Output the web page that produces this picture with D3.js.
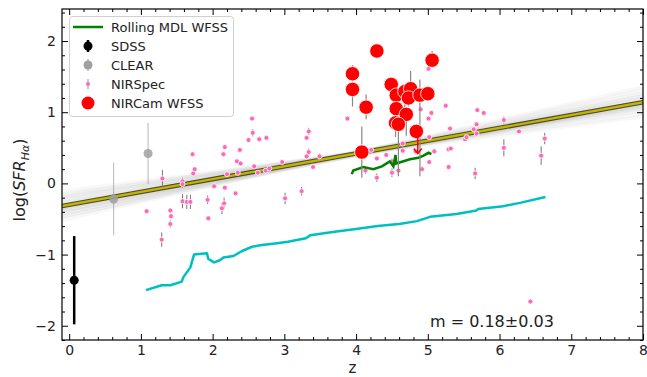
<!DOCTYPE html>
<html>
<head>
<meta charset="utf-8">
<script src="https://d3js.org/d3.v7.min.js"></script>
<style>
  body { margin: 0; background: #fff; }
  text { font-family: "DejaVu Sans", sans-serif; }
</style>
</head>
<body>
<script>
  // ---- data ----
  // NIRSpec: redshift, log SFR, error
  const nsZ = [1.08,1.30,1.29,1.41,1.42,1.41,1.58,1.58,1.58,1.64,1.69,1.73,1.75,1.72,1.93,1.94,2.02,2.13,2.16,2.17,
    2.20,2.15,2.17,2.32,2.34,2.39,2.35,2.38,2.50,2.55,2.56,2.58,2.63,2.65,2.75,2.74,2.79,2.97,3.01,3.24,
    3.31,3.34,3.34,3.31,3.49,3.40,3.88,4.13,4.21,4.29,4.42,4.50,4.50,4.59,4.65,4.65,4.29,4.83,4.92,5.02,
    5.09,5.29,5.29,4.90,5.05,5.01,5.02,5.01,5.25,5.69,5.78,6.06,5.31,5.68,5.64,5.68,5.52,5.54,6.27,6.63,
    5.32,6.06,6.58,5.66,6.43];
  const nsY = [-0.39,0.07,-0.79,-0.38,-0.46,-0.57,0.03,-0.01,-0.25,-0.26,-0.26,0.14,0.20,0.41,-0.23,-0.49,-0.04,-0.35,-0.28,-0.06,
    0.13,0.41,0.51,-0.14,0.31,0.28,0.15,0.47,0.61,0.91,0.71,0.24,0.15,0.62,0.64,0.18,0.21,0.30,-0.21,-0.11,
    0.64,0.73,0.44,0.38,0.38,0.23,0.91,0.18,0.47,0.35,0.40,0.31,0.15,0.18,0.56,0.46,0.08,0.45,0.20,0.30,
    0.45,0.48,0.23,1.04,0.99,0.91,0.65,1.61,1.09,1.03,0.99,0.89,0.77,0.83,0.76,0.70,0.62,0.65,0.73,0.63,
    0.49,0.50,0.39,0.14,-1.66];
  const nsErr = [0.03,0.12,0.10,0.03,0.03,0.05,0.05,0.05,0.10,0.10,0.10,0.03,0.03,0.02,0.06,0.03,0.02,0.08,0.08,0.02,
    0.03,0.03,0.02,0.02,0.03,0.02,0.02,0.02,0.02,0.02,0.05,0.03,0.02,0.02,0.02,0.03,0.02,0.03,0.08,0.06,
    0.03,0.05,0.05,0.03,0.04,0.03,0.02,0.05,0.03,0.03,0.03,0.04,0.06,0.06,0.03,0.03,0.06,0.03,0.04,0.03,
    0.03,0.03,0.03,0.02,0.02,0.02,0.02,0.02,0.02,0.02,0.02,0.05,0.02,0.02,0.02,0.02,0.02,0.02,0.02,0.08,
    0.02,0.12,0.13,0.08,0.02];

  // NIRCam WFSS
  const wfZ  = [3.95,3.95,4.29,4.14,4.08,4.49,4.56,4.68,4.76,4.73,4.89,5.00,5.06,4.56,4.70,4.55,4.59,4.84];
  const wfY  = [1.54,1.32,1.86,1.07,0.44,1.39,1.24,1.29,1.33,1.20,1.24,1.26,1.73,1.05,0.97,0.85,0.83,0.73];
  const wfLo = [0.10,0.24,0.05,0.17,0.36,0.10,0.12,0.25,0.10,0.12,1.14,0.10,0.10,0.12,0.30,0.20,0.73,0.10];
  const wfHi = [0.12,0.10,0.05,0.18,0.36,0.10,0.12,0.10,0.25,0.12,0.22,0.10,0.13,0.10,0.10,0.10,0.10,0.10];
  const limZ = [4.86], limTop = [0.72], limBot = [0.42];

  // SDSS and CLEAR
  const sdssZ = [0.07], sdssY = [-1.36], sdssErr = [0.62];
  const clearZ = [1.10, 0.62], clearY = [0.42, -0.22], clearErr = [0.43, 0.51];

  // rolling mass detection limits
  const mdlWfssZ = [3.94,3.96,4.10,4.24,4.36,4.47,4.52,4.55,4.56,4.75,4.87,4.94,5.01,5.05];
  const mdlWfssY = [0.13,0.18,0.23,0.20,0.24,0.31,0.24,0.40,0.28,0.34,0.36,0.39,0.43,0.41];
  const mdlZ = [1.07,1.29,1.41,1.57,1.59,1.69,1.74,1.92,1.94,2.02,2.10,2.15,2.29,2.41,2.55,2.66,2.90,3.05,3.30,3.36,
    3.70,4.00,4.30,4.60,4.85,5.03,5.40,5.68,5.70,6.05,6.30,6.64];
  const mdlY = [-1.50,-1.43,-1.43,-1.38,-1.32,-1.18,-1.00,-0.98,-1.06,-1.11,-1.08,-1.04,-1.02,-0.95,-0.89,-0.87,-0.84,-0.82,-0.77,-0.73,
    -0.68,-0.64,-0.60,-0.57,-0.53,-0.47,-0.43,-0.38,-0.36,-0.32,-0.27,-0.19];

  // linear fit and bootstrap draws
  const fitSlope = 0.18, fitIntercept = -0.30;
  const bandSlope = [0.13,0.14,0.15,0.15,0.16,0.16,0.17,0.17,0.17,0.18,0.18,0.18,0.18,0.19,0.19,0.19,0.20,0.20,0.21,0.21,0.22,0.23];
  const bandIntercept = [-0.10,-0.14,-0.18,-0.16,-0.22,-0.20,-0.26,-0.25,-0.28,-0.29,-0.30,-0.31,-0.33,-0.33,-0.35,-0.37,-0.37,-0.40,-0.41,-0.44,-0.45,-0.49];

  const xTicks = [0,1,2,3,4,5,6,7,8];
  const yTicks = [-2,-1,0,1,2];
  const legendLabels = ["Rolling MDL WFSS","SDSS","CLEAR","NIRSpec","NIRCam WFSS"];

  // ---- layout ----
  const W = 647, H = 377;
  const L = 62, R = 643, T = 9, B = 340;

  const x = d3.scaleLinear().domain([-0.1, 8]).range([L, R]);
  const y = d3.scaleLinear().domain([-2.2, 2.45]).range([B, T]);

  const svg = d3.select("body").append("svg")
    .attr("width", W).attr("height", H);

  svg.append("defs").append("clipPath").attr("id", "clip")
    .append("rect").attr("x", L).attr("y", T).attr("width", R - L).attr("height", B - T);

  const plot = svg.append("g").attr("clip-path", "url(#clip)");

  // bootstrap band
  const xs = x.domain();
  plot.selectAll(".band")
    .data(d3.range(bandSlope.length))
    .enter().append("line")
    .attr("x1", x(xs[0])).attr("x2", x(xs[1]))
    .attr("y1", i => y(bandIntercept[i] + bandSlope[i] * xs[0]))
    .attr("y2", i => y(bandIntercept[i] + bandSlope[i] * xs[1]))
    .attr("stroke", "#888").attr("stroke-width", 4).attr("stroke-opacity", 0.06);

  // fit line
  [["#4a4a30", 4.5], ["#c2b400", 2.4]].forEach(function(s) {
    plot.append("line")
      .attr("x1", x(xs[0])).attr("x2", x(xs[1]))
      .attr("y1", y(fitIntercept + fitSlope * xs[0]))
      .attr("y2", y(fitIntercept + fitSlope * xs[1]))
      .attr("stroke", s[0]).attr("stroke-width", s[1]);
  });

  // cyan rolling MDL
  const line = d3.line().x(d => x(d[0])).y(d => y(d[1]));
  plot.append("path")
    .attr("d", line(d3.zip(mdlZ, mdlY)))
    .attr("fill", "none").attr("stroke", "#00bfbf").attr("stroke-width", 2.5)
    .attr("stroke-linejoin", "round");

  // SDSS
  plot.selectAll(".sdss-e").data(sdssZ).enter().append("line")
    .attr("x1", d => x(d)).attr("x2", d => x(d))
    .attr("y1", (d, i) => y(sdssY[i] - sdssErr[i]))
    .attr("y2", (d, i) => y(sdssY[i] + sdssErr[i]))
    .attr("stroke", "black").attr("stroke-width", 2.5);
  plot.selectAll(".sdss").data(sdssZ).enter().append("circle")
    .attr("cx", d => x(d)).attr("cy", (d, i) => y(sdssY[i])).attr("r", 4.5)
    .attr("fill", "black");

  // CLEAR
  plot.selectAll(".clear-e").data(clearZ).enter().append("line")
    .attr("x1", d => x(d)).attr("x2", d => x(d))
    .attr("y1", (d, i) => y(clearY[i] - clearErr[i]))
    .attr("y2", (d, i) => y(clearY[i] + clearErr[i]))
    .attr("stroke", "#999").attr("stroke-width", 1).attr("stroke-opacity", 0.7);
  plot.selectAll(".clear").data(clearZ).enter().append("circle")
    .attr("cx", d => x(d)).attr("cy", (d, i) => y(clearY[i])).attr("r", 4.5)
    .attr("fill", "#a0a0a0").attr("fill-opacity", 0.85);

  // NIRSpec
  plot.selectAll(".ns-e").data(nsZ).enter().append("line")
    .attr("x1", d => x(d)).attr("x2", d => x(d))
    .attr("y1", (d, i) => y(nsY[i] - nsErr[i]))
    .attr("y2", (d, i) => y(nsY[i] + nsErr[i]))
    .attr("stroke", "#777").attr("stroke-width", 1);
  plot.selectAll(".ns").data(nsZ).enter().append("circle")
    .attr("cx", d => x(d)).attr("cy", (d, i) => y(nsY[i])).attr("r", 2.5)
    .attr("fill", "#ff69b4").attr("stroke", "white").attr("stroke-width", 0.8);

  // green WFSS MDL
  plot.append("path")
    .attr("d", line(d3.zip(mdlWfssZ, mdlWfssY)))
    .attr("fill", "none").attr("stroke", "green").attr("stroke-width", 2.5);

  // NIRCam WFSS
  plot.selectAll(".wf-e").data(wfZ).enter().append("line")
    .attr("x1", d => x(d)).attr("x2", d => x(d))
    .attr("y1", (d, i) => y(wfY[i] - wfLo[i]))
    .attr("y2", (d, i) => y(wfY[i] + wfHi[i]))
    .attr("stroke", "#888").attr("stroke-width", 1.2);
  plot.selectAll(".wf").data(wfZ).enter().append("circle")
    .attr("cx", d => x(d)).attr("cy", (d, i) => y(wfY[i])).attr("r", 7.2)
    .attr("fill", "red").attr("stroke", "white").attr("stroke-width", 0.8);

  // upper limit arrow
  limZ.forEach(function(z, i) {
    const ax = x(z), ab = y(limBot[i]);
    plot.append("line").attr("x1", ax).attr("x2", ax)
      .attr("y1", y(limTop[i])).attr("y2", ab)
      .attr("stroke", "red").attr("stroke-width", 1.5);
    plot.append("path")
      .attr("d", `M${ax - 4},${ab - 5}L${ax},${ab}L${ax + 4},${ab - 5}`)
      .attr("fill", "none").attr("stroke", "red").attr("stroke-width", 1.5);
  });

  // ---- axes ----
  const xMinor = d3.range(0, 8.01, 0.2).filter(v => Math.abs(v - Math.round(v)) > 0.01);
  const yMinor = d3.range(-2.2, 2.45, 0.2).filter(v => Math.abs(v - Math.round(v)) > 0.01);

  function styleAxis(g) {
    g.select(".domain").remove();
    g.selectAll("line").attr("stroke", "black").attr("stroke-width", 1);
    g.selectAll("text").attr("font-size", 14).attr("fill", "#222")
      .attr("font-family", "DejaVu Sans");
  }
  const fmt = d => d < 0 ? "\u2212" + Math.abs(d) : String(d);

  svg.append("g").attr("transform", `translate(0,${B})`)
    .call(d3.axisBottom(x).tickValues(xTicks).tickSize(-6).tickPadding(5).tickFormat(fmt)).call(styleAxis);
  svg.append("g").attr("transform", `translate(0,${B})`)
    .call(d3.axisBottom(x).tickValues(xMinor).tickSize(-3).tickFormat("")).call(styleAxis);
  svg.append("g").attr("transform", `translate(0,${T})`)
    .call(d3.axisTop(x).tickValues(xTicks).tickSize(-6).tickFormat("")).call(styleAxis);
  svg.append("g").attr("transform", `translate(0,${T})`)
    .call(d3.axisTop(x).tickValues(xMinor).tickSize(-3).tickFormat("")).call(styleAxis);

  svg.append("g").attr("transform", `translate(${L},0)`)
    .call(d3.axisLeft(y).tickValues(yTicks).tickSize(-6).tickPadding(6).tickFormat(fmt)).call(styleAxis);
  svg.append("g").attr("transform", `translate(${L},0)`)
    .call(d3.axisLeft(y).tickValues(yMinor).tickSize(-3).tickFormat("")).call(styleAxis);
  svg.append("g").attr("transform", `translate(${R},0)`)
    .call(d3.axisRight(y).tickValues(yTicks).tickSize(-6).tickFormat("")).call(styleAxis);
  svg.append("g").attr("transform", `translate(${R},0)`)
    .call(d3.axisRight(y).tickValues(yMinor).tickSize(-3).tickFormat("")).call(styleAxis);

  svg.append("rect").attr("x", L).attr("y", T).attr("width", R - L).attr("height", B - T)
    .attr("fill", "none").attr("stroke", "black").attr("stroke-width", 1.2);

  // axis labels
  svg.append("text").attr("x", (L + R) / 2).attr("y", 373)
    .attr("text-anchor", "middle").attr("font-size", 15).attr("fill", "#222").text("z");

  const yl = svg.append("text")
    .attr("transform", "translate(25,180) rotate(-90)")
    .attr("text-anchor", "middle").attr("font-size", 16).attr("fill", "#222");
  yl.append("tspan").text("log(");
  yl.append("tspan").attr("font-style", "italic").text("SFR");
  yl.append("tspan").attr("font-style", "italic").attr("font-size", 11).attr("dy", 4).text("H\u03b1");
  yl.append("tspan").attr("dy", -4).text(")");

  // annotation
  svg.append("text").attr("x", 430).attr("y", 327)
    .attr("font-size", 16).attr("fill", "#222").text("m = 0.18\u00b10.03");

  // ---- legend ----
  const lg = svg.append("g");
  lg.append("rect").attr("x", 69.5).attr("y", 16.5).attr("width", 164).attr("height", 100)
    .attr("rx", 3).attr("fill", "white").attr("fill-opacity", 0.85)
    .attr("stroke", "#d0d0d0").attr("stroke-width", 1);
  const rowY = d3.range(legendLabels.length).map(i => 27 + i * 19);
  lg.selectAll(".lt").data(legendLabels).enter().append("text")
    .attr("x", 111).attr("y", (d, i) => rowY[i]).attr("dy", "0.35em")
    .attr("font-size", 13).attr("fill", "#222").text(d => d);
  const hx = 88;
  lg.append("line").attr("x1", 73).attr("x2", 103).attr("y1", rowY[0]).attr("y2", rowY[0])
    .attr("stroke", "green").attr("stroke-width", 2.5);
  lg.append("line").attr("x1", hx).attr("x2", hx).attr("y1", rowY[1] - 6).attr("y2", rowY[1] + 6)
    .attr("stroke", "black").attr("stroke-width", 2.5);
  lg.append("circle").attr("cx", hx).attr("cy", rowY[1]).attr("r", 4.5).attr("fill", "black");
  lg.append("line").attr("x1", hx).attr("x2", hx).attr("y1", rowY[2] - 6).attr("y2", rowY[2] + 6)
    .attr("stroke", "#999").attr("stroke-width", 1);
  lg.append("circle").attr("cx", hx).attr("cy", rowY[2]).attr("r", 4.5).attr("fill", "#a0a0a0");
  lg.append("line").attr("x1", hx).attr("x2", hx).attr("y1", rowY[3] - 5).attr("y2", rowY[3] + 5)
    .attr("stroke", "#999").attr("stroke-width", 1);
  lg.append("circle").attr("cx", hx).attr("cy", rowY[3]).attr("r", 2).attr("fill", "#ff69b4");
  lg.append("circle").attr("cx", hx).attr("cy", rowY[4]).attr("r", 6.5).attr("fill", "red");
</script>
</body>
</html>
